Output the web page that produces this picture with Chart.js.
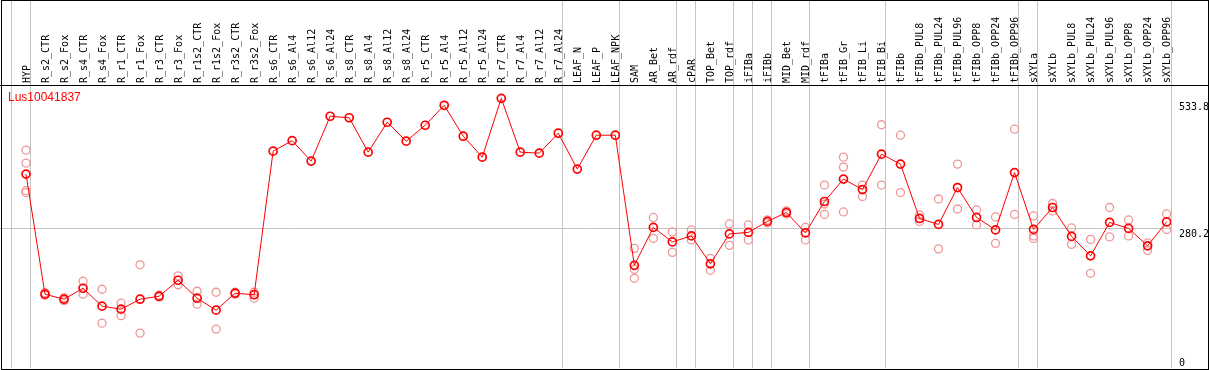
<!DOCTYPE html>
<html>
<head>
<meta charset="utf-8">
<script src="https://cdn.jsdelivr.net/npm/chart.js@4/dist/chart.umd.min.js"></script>
<style>
  html,body{margin:0;padding:0;background:#fff;}
  canvas{display:block;}
</style>
</head>
<body>
<canvas id="c" width="1209" height="370"></canvas>
<script>
const seriesName = 'Lus10041837';

const categories = ['HYP','R_s2_CTR','R_s2_Fox','R_s4_CTR','R_s4_Fox','R_r1_CTR','R_r1_Fox','R_r3_CTR','R_r3_Fox',
  'R_r1s2_CTR','R_r1s2_Fox','R_r3s2_CTR','R_r3s2_Fox','R_s6_CTR','R_s6_Al4','R_s6_Al12','R_s6_Al24',
  'R_s8_CTR','R_s8_Al4','R_s8_Al12','R_s8_Al24','R_r5_CTR','R_r5_Al4','R_r5_Al12','R_r5_Al24',
  'R_r7_CTR','R_r7_Al4','R_r7_Al12','R_r7_Al24','LEAF_N','LEAF_P','LEAF_NPK','SAM','AR_Bet','AR_rdf',
  'cPAR','TOP_Bet','TOP_rdf','iFIBa','iFIBb','MID_Bet','MID_rdf','tFIBa','tFIB_Gr','tFIB_Li','tFIB_Bi',
  'tFIBb','tFIBb_PUL8','tFIBb_PUL24','tFIBb_PUL96','tFIBb_OPP8','tFIBb_OPP24','tFIBb_OPP96','sXYLa',
  'sXYLb','sXYLb_PUL8','sXYLb_PUL24','sXYLb_PUL96','sXYLb_OPP8','sXYLb_OPP24','sXYLb_OPP96'];

const means = [389,148,138,160,124,118,138,144,176,140,116,150,147,435,456,415,505,502,433,493,455,487,527,465,423,
  541,433,431,471,399,467,467,206,282,253,265,209,269,272,294,312,271,334,379,358,429,409,300,288,362,302,277,392,
  278,322,264,225,292,280,245,293];

const rep1 = [437,151,141,174,158,130,207,146,185,154,152,152,152,null,null,null,null,null,null,null,null,null,null,null,null,
  null,null,null,null,null,null,null,240,302,273,277,220,289,287,297,315,282,367,423,367,488,467,307,339,409,317,303,479,
  305,330,281,258,322,297,251,309];
const rep2 = [411,146,135,148,90,105,70,142,167,128,78,148,140,null,null,null,null,null,null,null,null,null,null,null,null,
  null,null,null,null,null,null,null,198,260,232,257,196,246,257,291,309,257,329,403,344,367,352,294,239,319,287,250,308,
  265,315,248,190,263,265,236,278];
const rep3 = [356,null,null,null,null,null,null,null,null,null,null,null,null,null,null,null,null,null,null,null,null,null,null,null,null,
  null,null,null,null,null,null,null,180,null,null,null,null,null,null,null,null,null,308,313,null,null,null,null,null,null,null,null,null,
  260,null,null,null,null,null,null,null];
const rep4 = [352];

const yTicks = [0, 280.2, 533.8];
const yMax = 567.7;
// group boundaries: separator drawn just after these category indices
const groupEnds = [-1,0,28,31,34,35,37,38,39,41,45,52,53,60];
const sepShift = 0.23;
const xMin = -1.3677, xMax = 60.23;

const toPts = arr => arr.map((v,i)=> v==null ? null : {x:i, y:v}).filter(Boolean);

const pink = 'rgb(238,150,150)';
const repStyle = {showLine:false, pointRadius:4, pointBorderWidth:1.3, pointBorderColor:pink,
  pointBackgroundColor:'rgba(0,0,0,0)', borderColor:pink, pointHoverRadius:4};

const framePlugin = {
  id:'frame',
  beforeDraw(chart){
    const c = chart.ctx; c.save(); c.fillStyle='#fff'; c.fillRect(0,0,chart.width,chart.height); c.restore();
  },
  afterDraw(chart){
    const c = chart.ctx, a = chart.chartArea, ys = chart.scales.y;
    c.save();
    c.strokeStyle = '#000'; c.lineWidth = 1;
    c.strokeRect(1.5, 0.5, chart.width - 2, chart.height - 1);
    c.beginPath(); c.moveTo(0, Math.round(a.top)+0.5); c.lineTo(chart.width, Math.round(a.top)+0.5); c.stroke();
    c.fillStyle = '#000'; c.font = '10px "DejaVu Sans Mono"'; c.textAlign='left'; c.textBaseline='top';
    yTicks.forEach(v => {
      const py = Math.min(ys.getPixelForValue(v) + 1, a.bottom - 10);
      c.fillText(String(v), a.right + 8, py);
    });
    c.fillStyle = '#f00'; c.font = '12px "Liberation Sans"'; c.textBaseline='alphabetic';
    c.fillText(seriesName, a.left + 8, a.top + 16);
    c.restore();
  }
};

const noPad = s => { s.paddingLeft = 0; s.paddingRight = 0; };

new Chart(document.getElementById('c'), {
  type: 'scatter',
  data: {
    datasets: [
      {label: seriesName, data: toPts(means), showLine:true, borderColor:'#f00', borderWidth:1,
       pointRadius:4, pointBorderWidth:1.7, pointBorderColor:'#f00', pointBackgroundColor:'rgba(0,0,0,0)', tension:0},
      Object.assign({label:'rep1', data: toPts(rep1)}, repStyle),
      Object.assign({label:'rep2', data: toPts(rep2)}, repStyle),
      Object.assign({label:'rep3', data: toPts(rep3)}, repStyle),
      Object.assign({label:'rep4', data: toPts(rep4)}, repStyle)
    ]
  },
  options: {
    responsive:false, animation:false, devicePixelRatio:1,
    layout:{autoPadding:false, padding:{left:0,right:0,top:0,bottom:2}},
    plugins:{legend:{display:false}, tooltip:{enabled:false}, title:{display:false}},
    scales:{
      x:{
        type:'linear', position:'top', min:xMin, max:xMax, weight:1,
        afterBuildTicks: s => { s.ticks = categories.map((c,i)=>({value:i})); },
        afterFit: s => { s.height = 85; noPad(s); },
        grid:{display:false, drawTicks:false},
        border:{display:false},
        ticks:{autoSkip:false, minRotation:90, maxRotation:90, padding:2, labelOffset:13, color:'#000',
          font:{family:'"DejaVu Sans Mono"', size:10},
          callback:(v,i)=> categories[i]}
      },
      x2:{
        type:'linear', position:'top', min:xMin, max:xMax, weight:0,
        afterBuildTicks: s => { s.ticks = groupEnds.map(g=>({value:g+sepShift})); },
        afterFit: s => { s.height = 0; noPad(s); },
        grid:{display:true, color:'#c4c4c4', lineWidth:1, drawTicks:true, tickLength:85, drawOnChartArea:true},
        border:{display:false},
        ticks:{display:false}
      },
      y:{
        type:'linear', position:'right', min:0, max:yMax,
        afterBuildTicks: s => { s.ticks = yTicks.map(v=>({value:v})); },
        afterFit: s => { s.width = 38; s.paddingTop = 0; s.paddingBottom = 0; },
        grid:{display:true, drawTicks:false,
          color: ctx => (ctx.tick && ctx.tick.value === 280.2) ? '#c4c4c4' : 'rgba(0,0,0,0)'},
        border:{display:false},
        ticks:{display:false}
      }
    }
  },
  plugins:[framePlugin]
});
</script>
</body>
</html>
